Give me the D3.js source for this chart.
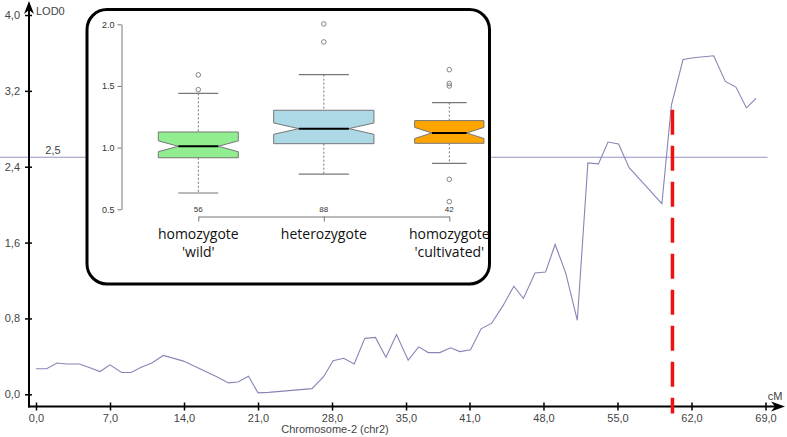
<!DOCTYPE html>
<html>
<head>
<meta charset="utf-8">
<script src="https://cdn.jsdelivr.net/npm/d3@7"></script>
<style>
  html, body { margin: 0; padding: 0; background: #fff; }
  svg { display: block; }
</style>
</head>
<body>
<svg id="chart" width="787" height="437"></svg>
<script>
// ---------- DATA ----------
const lodPos = [0, 1, 2, 2.9, 4.1, 5.1, 6.05, 7, 8.1, 9, 9.85, 10.95, 12.05, 13.95, 15.5, 17.1, 18.2, 19.1, 20.1, 21, 22,
  26.1, 27.2, 28.1, 29.1, 30.1, 31.1, 32.1, 33.1, 34.1, 35.2, 36.2, 37.1, 38.2, 39.2, 40.1, 41.1, 42.1, 43.1, 44.2, 45.2,
  46.1, 47.2, 48.2, 49.1, 50.1, 51.2, 52.2, 53.2, 54.1, 55.1, 56.1, 57.5, 59.2, 60.1, 61.2, 62.2, 64.1, 65.2, 66.2, 67.2, 68.1];
const lodVal = [0.27, 0.27, 0.33, 0.32, 0.32, 0.28, 0.24, 0.31, 0.23, 0.23, 0.28, 0.33, 0.41, 0.35, 0.27, 0.185, 0.12, 0.13, 0.19, 0.015, 0.02,
  0.06, 0.185, 0.355, 0.38, 0.32, 0.59, 0.60, 0.39, 0.63, 0.36, 0.50, 0.44, 0.44, 0.49, 0.45, 0.47, 0.69, 0.75, 0.94, 1.14,
  1.01, 1.28, 1.29, 1.58, 1.28, 0.78, 2.44, 2.43, 2.66, 2.64, 2.39, 2.22, 2.01, 3.05, 3.53, 3.55, 3.57, 3.30, 3.24, 3.02, 3.12];
const threshold = 2.5;
const thresholdLabel = "2,5";
const qtlPos = 60.2;
const qtlTop = 3.0;
const xTicks = [0, 7, 14, 21, 28, 35, 41, 48, 55, 62, 69];
const yTicks = [0, 0.8, 1.6, 2.4, 3.2, 4.0];
const xTitle = "Chromosome-2 (chr2)";
const xUnit = "cM";
const yTitle = "LOD0";

// inset box plot
const genotypes = ["homozygote\n'wild'", "heterozygote", "homozygote\n'cultivated'"];
const counts = [56, 88, 42];
const boxColors = ["#90ee90", "#add8e6", "#ffa500"];
const whiskerLow = [0.632, 0.786, 0.873];
const q1 = [0.918, 1.032, 1.035];
const median = [1.011, 1.154, 1.119];
const q3 = [1.127, 1.303, 1.219];
const whiskerHigh = [1.44, 1.592, 1.365];
const notchHalf = [0.044, 0.046, 0.045];
const outliers = [[1.47, 1.59], [1.857, 2.003], [1.632, 1.52, 1.50, 0.743, 0.562]];
const insetTicks = [0.5, 1.0, 1.5, 2.0];

// ---------- DRAW ----------
const svg = d3.select("#chart");
const comma = v => d3.format(".1f")(v).replace(".", ",");

const x = d3.scaleLinear().domain([0, 69]).range([36, 765.5]);
const y = d3.scaleLinear().domain([0, 4]).range([394.3, 15]);
const axisY = 406.5, axisX = 29;
const textCol = "#444";
const font = "'Liberation Sans', Arial, sans-serif";

// threshold line
svg.append("line")
  .attr("x1", 0).attr("x2", x(69) + 2)
  .attr("y1", y(threshold)).attr("y2", y(threshold))
  .attr("stroke", "#9494c4").attr("stroke-width", 1.2);
svg.append("text").attr("x", 53).attr("y", y(threshold) - 3)
  .attr("text-anchor", "middle").attr("font-family", font).attr("font-size", 11)
  .attr("fill", textCol).text(thresholdLabel);

// LOD curve
const line = d3.line().x(d => x(d[0])).y(d => y(d[1]));
svg.append("path").datum(lodPos.map((p, i) => [p, lodVal[i]]))
  .attr("d", line).attr("fill", "none")
  .attr("stroke", "#8686b6").attr("stroke-width", 1.1);

// x axis
const gx = svg.append("g").attr("transform", `translate(0,${axisY})`)
  .call(d3.axisBottom(x).tickValues(xTicks).tickFormat(comma).tickSize(0).tickPadding(8));
gx.select(".domain").remove();
gx.append("line").attr("x1", axisX - 1).attr("x2", 780).attr("stroke", "#000").attr("stroke-width", 2);
gx.selectAll(".tick").append("line").attr("y1", -4).attr("y2", 4).attr("stroke", "#000").attr("stroke-width", 1.5);
gx.selectAll(".tick text").attr("font-family", font).attr("font-size", 11).attr("fill", textCol);
gx.append("path").attr("d", "M771,-5 L785,0 L771,5 L775,0 Z").attr("fill", "#000");
svg.append("text").attr("x", 775).attr("y", 400).attr("text-anchor", "middle")
  .attr("font-family", font).attr("font-size", 11).attr("fill", textCol).text(xUnit);
svg.append("text").attr("x", 335).attr("y", 433).attr("text-anchor", "middle")
  .attr("font-family", font).attr("font-size", 11).attr("fill", textCol).text(xTitle);

// y axis
const gy = svg.append("g").attr("transform", `translate(${axisX},0)`)
  .call(d3.axisLeft(y).tickValues(yTicks).tickFormat(comma).tickSize(0).tickPadding(9));
gy.select(".domain").remove();
gy.append("line").attr("y1", axisY + 1).attr("y2", 8).attr("stroke", "#000").attr("stroke-width", 2);
gy.selectAll(".tick").append("line").attr("x1", -4).attr("x2", 3).attr("stroke", "#000").attr("stroke-width", 1.5);
gy.selectAll(".tick text").attr("font-family", font).attr("font-size", 11).attr("fill", textCol);
gy.append("path").attr("d", "M-5,14 L0,1 L5,14 L0,10 Z").attr("fill", "#000");
svg.append("text").attr("x", 36).attr("y", 15)
  .attr("font-family", font).attr("font-size", 11).attr("fill", textCol).text(yTitle);

// QTL marker
svg.append("line").attr("x1", x(qtlPos)).attr("x2", x(qtlPos))
  .attr("y1", y(qtlTop)).attr("y2", axisY + 7)
  .attr("stroke", "#ee1111").attr("stroke-width", 3.5).attr("stroke-dasharray", "25,11");

// ---------- INSET ----------
svg.append("rect").attr("x", 87).attr("y", 9.5).attr("width", 402.5).attr("height", 274.5)
  .attr("rx", 20).attr("ry", 20).attr("fill", "#fff").attr("stroke", "#000").attr("stroke-width", 3);

const by = d3.scaleLinear().domain([0.5, 2.0]).range([209.3, 24.3]);
const bx = d3.scalePoint().domain(genotypes).range([198.3, 449.3]);
const wScale = d3.scaleSqrt().domain([0, 56]).range([0, 80]);
const gray = "#777";

const giy = svg.append("g").attr("transform", "translate(121.5,0)")
  .call(d3.axisLeft(by).tickValues(insetTicks).tickFormat(d3.format(".1f")).tickSizeInner(4).tickSizeOuter(0).tickPadding(3));
giy.select(".domain").attr("stroke", gray);
giy.selectAll(".tick line").attr("stroke", gray);
giy.selectAll(".tick text").attr("font-family", font).attr("font-size", 9).attr("fill", "#333");

const gix = svg.append("g").attr("transform", "translate(0,216.5)")
  .call(d3.axisBottom(bx).tickSizeInner(5).tickSizeOuter(0).tickFormat(""));
gix.select(".domain").attr("stroke", gray);
gix.selectAll(".tick line").attr("stroke", gray);

genotypes.forEach((g, i) => {
  const cx = bx(g);
  const hw = wScale(counts[i]) / 2;
  const nw = hw / 2;
  const tQ3 = by(q3[i]), tQ1 = by(q1[i]), tM = by(median[i]);
  const nTop = by(median[i] + notchHalf[i]), nBot = by(median[i] - notchHalf[i]);
  // whiskers
  svg.append("line").attr("x1", cx).attr("x2", cx).attr("y1", by(whiskerHigh[i])).attr("y2", tQ3)
    .attr("stroke", gray).attr("stroke-dasharray", "2,2");
  svg.append("line").attr("x1", cx).attr("x2", cx).attr("y1", tQ1).attr("y2", by(whiskerLow[i]))
    .attr("stroke", gray).attr("stroke-dasharray", "2,2");
  [whiskerHigh[i], whiskerLow[i]].forEach(v => {
    svg.append("line").attr("x1", cx - nw).attr("x2", cx + nw).attr("y1", by(v)).attr("y2", by(v))
      .attr("stroke", gray).attr("stroke-width", 1.2);
  });
  // notched box
  const pts = [
    [cx - hw, tQ3], [cx + hw, tQ3], [cx + hw, nTop], [cx + nw, tM], [cx + hw, nBot],
    [cx + hw, tQ1], [cx - hw, tQ1], [cx - hw, nBot], [cx - nw, tM], [cx - hw, nTop]
  ];
  svg.append("path").attr("d", "M" + pts.map(p => p.join(",")).join("L") + "Z")
    .attr("fill", boxColors[i]).attr("stroke", gray).attr("stroke-width", 1);
  svg.append("line").attr("x1", cx - nw).attr("x2", cx + nw).attr("y1", tM).attr("y2", tM)
    .attr("stroke", "#000").attr("stroke-width", 2);
  // outliers
  svg.selectAll(null).data(outliers[i]).enter().append("circle")
    .attr("cx", cx).attr("cy", d => by(d)).attr("r", 2.3)
    .attr("fill", "none").attr("stroke", gray).attr("stroke-width", 0.9);
  // count
  svg.append("text").attr("x", cx).attr("y", 212).attr("text-anchor", "middle")
    .attr("font-family", font).attr("font-size", 8).attr("fill", "#333").text(counts[i]);
  // category label (one text per line)
  g.split("\n").forEach((s, k) => {
    svg.append("text").attr("x", cx).attr("y", 239 + k * 18).attr("text-anchor", "middle")
      .attr("font-family", "'Open Sans', sans-serif").attr("font-size", 14).attr("fill", "#111")
      .text(s);
  });
});
</script>
</body>
</html>
